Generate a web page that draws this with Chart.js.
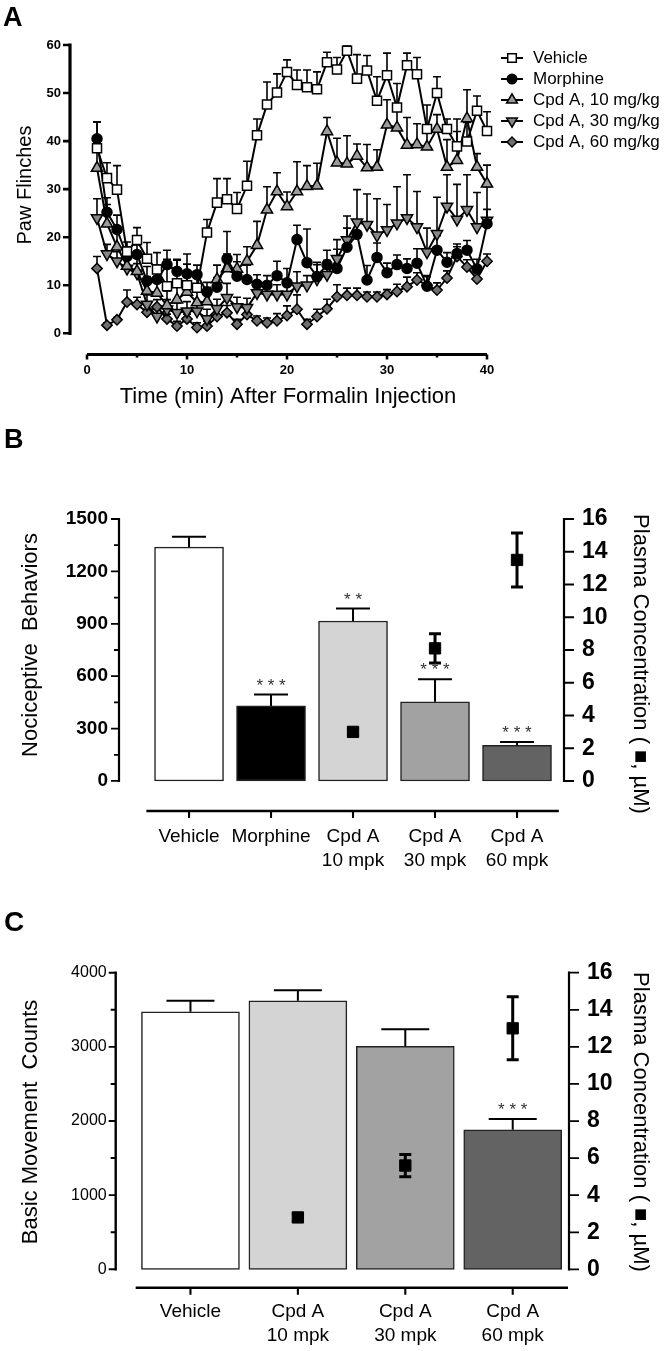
<!DOCTYPE html>
<html>
<head>
<meta charset="utf-8">
<script src="https://cdn.jsdelivr.net/npm/chart.js@4.4.0/dist/chart.umd.min.js"></script>
<style>
  body { margin: 0; background: #fff; width: 666px; height: 1351px; overflow: hidden; position: relative; }
  canvas { position: absolute; left: 0; }
</style>
</head>
<body>
<canvas id="chartA" width="666" height="420" style="top:0"></canvas>
<canvas id="chartB" width="666" height="470" style="top:420px"></canvas>
<canvas id="chartC" width="666" height="461" style="top:890px"></canvas>
<script>
// ---- panel A: paw flinches per minute ----
const minutes = [1, 2, 3, 4, 5, 6, 7, 8, 9, 10, 11, 12, 13, 14, 15, 16, 17, 18, 19, 20,
  21, 22, 23, 24, 25, 26, 27, 28, 29, 30, 31, 32, 33, 34, 35, 36, 37, 38, 39, 40];
const vehicle = [38.5, 32.3, 29.9, 17, 19.4, 15.5, 13.3, 9.8, 10.4, 10, 9.5, 21, 27.2, 27.9, 25.9, 30.7, 41.2, 47.6, 50.1, 54.4,
  51.7, 51.2, 50.8, 56.4, 54.9, 58.8, 53, 54.7, 48.4, 53.7, 47, 55.8, 53.9, 42.5, 50, 42.5, 38.9, 39.9, 46.3, 42.1];
const vehicleErr = [5.5, 3.2, 5, 2, 2.6, 3.4, 3.5, 5.6, 4.8, 6.5, 2.5, 2.7, 5, 4.3, 3.4, 5.1, 3.4, 4.7, 3.9, 2.5,
  3.1, 3.6, 3.6, 2.1, 2.5, 1, 5, 3.1, 5, 4.6, 5, 2.5, 3.5, 5, 3.4, 2.1, 5.7, 4, 3.1, 4];
const morphine = [40.5, 25.2, 21.6, 16, 16.4, 10.9, 11.2, 14.3, 12.9, 12.4, 12.2, 8.6, 9.6, 15.5, 11.9, 11.2, 10.2, 10, 12, 10.5,
  19.5, 14.7, 11.8, 14.3, 13.5, 17.9, 20.6, 11.1, 15.8, 12.6, 14.3, 13.5, 14.6, 9.8, 17.3, 14.8, 16.6, 17.3, 13.4, 22.8];
const morphineErr = [3.5, 3, 3, 2, 2, 3, 3, 3, 2.5, 2, 2, 2, 2, 5.7, 3, 3, 2, 2, 3, 3,
  3, 7, 3, 3, 4, 4, 3, 3, 3, 2, 2, 2, 3, 2, 3, 2, 2, 2, 2, 3];
const cpd10 = [34.4, 22.8, 18, 14, 12.9, 8.8, 8.4, 5.8, 7, 8.6, 6.4, 6.6, 11.2, 13.5, 13.4, 15, 18.3, 25.7, 29.5, 26.4,
  29.5, 30.6, 30.7, 42, 35.5, 35.3, 36.9, 34.5, 34.6, 43.4, 42.8, 39.2, 39.3, 38.8, 42.5, 34.6, 36, 44.7, 34.6, 31.1];
const cpd10Err = [4, 4, 4, 3, 3, 3, 3, 3, 3, 3, 3, 3, 3, 3, 3, 3, 5, 4.8, 3.9, 3,
  6.2, 4.3, 4.7, 2.9, 5.1, 5.8, 2.5, 4.8, 3.6, 5.2, 4.5, 5.7, 4.3, 4.4, 3, 5.7, 6, 6, 2.8, 3.9];
const cpd30 = [24, 16.5, 15, 13.5, 12.5, 6, 3.5, 5, 4.3, 4.6, 4.6, 3, 5.1, 7.4, 5.5, 5.3, 8.4, 8.1, 8.1, 8.1,
  9.8, 10, 11.3, 12.2, 15.5, 19.4, 23.1, 22.6, 20.4, 21.5, 22.9, 24, 22.1, 16.9, 20.7, 26.4, 23.7, 25.7, 22.1, 23.5];
const cpd30Err = [4, 2, 2, 2, 2, 2, 2, 2, 2, 2, 2, 2, 2, 3, 2, 2, 2, 2, 2, 2,
  3, 2, 3, 3, 4, 5, 6.8, 6.4, 7.6, 5.3, 7.6, 9, 7.4, 5, 7.6, 6.6, 7.3, 7.3, 7.2, 7];
const cpd60 = [13.5, 1.7, 2.8, 6.5, 6, 4.4, 5.5, 3, 1.5, 3, 1.2, 1.5, 3.5, 4.3, 1.9, 3.9, 2.6, 2.2, 2.6, 3.7,
  5, 1.9, 3.5, 5.1, 7.6, 7.9, 7.9, 7.6, 7.6, 8.1, 8.7, 9.7, 11.1, 10, 9, 11.5, 16, 13.8, 11.3, 15];
const cpd60Err = [2.5, 0.5, 0.5, 2.5, 1.5, 1.5, 1.5, 1, 1, 1, 1, 1, 1.5, 1.5, 1, 1.5, 1, 1, 1.5, 2,
  3, 1, 1.5, 2, 2.5, 1.5, 1.5, 1, 1, 1, 1.5, 2, 1.5, 2, 1.5, 1.5, 2, 1.5, 1.5, 1.5];
const aYTicks = [0, 10, 20, 30, 40, 50, 60];
const aXTicks = [0, 10, 20, 30, 40];

// ---- panel B: nociceptive behaviours + plasma ----
const bCats = ['Vehicle', 'Morphine', ['Cpd A', '10 mpk'], ['Cpd A', '30 mpk'], ['Cpd A', '60 mpk']];
const bBehav = [1339, 430, 916, 453, 204];
const bBehavErr = [60, 65, 71, 130, 19];
const bStars = ['', '* * *', '* *', '* * *', '* * *'];
const bPlasmaAt = [2, 3, 4];
const bPlasma = [3.0, 8.1, 13.5];
const bPlasmaErr = [0.2, 0.9, 1.65];
const bLeftTicks = [0, 300, 600, 900, 1200, 1500];
const bRightTicks = [0, 2, 4, 6, 8, 10, 12, 14, 16];

// ---- panel C: basic movement + plasma ----
const cCats = ['Vehicle', ['Cpd A', '10 mpk'], ['Cpd A', '30 mpk'], ['Cpd A', '60 mpk']];
const cMove = [3473, 3622, 3008, 1882];
const cMoveErr = [150, 140, 230, 145];
const cStars = ['', '', '', '* * *'];
const cPlasmaAt = [1, 2, 3];
const cPlasma = [2.8, 5.6, 13.0];
const cPlasmaErr = [0.2, 0.6, 1.7];
const cLeftTicks = [0, 1000, 2000, 3000, 4000];
const cRightTicks = [0, 2, 4, 6, 8, 10, 12, 14, 16];

const FONT = '"Liberation Sans", Arial, Helvetica, sans-serif';

function pts(xs, ys) {
  return xs.map((x, i) => ({ x: x, y: ys[i] }));
}

function setTicks(list) {
  return s => { s.ticks = list.map(v => ({ value: v })); };
}

const noGrid = { display: false, drawTicks: false };
const plain = v => String(v);

function errorBars(chart, dsIndex, errs, cap, width, both) {
  const meta = chart.getDatasetMeta(dsIndex);
  const ys = chart.scales[meta.yAxisID];
  const data = chart.data.datasets[dsIndex].data;
  const ctx = chart.ctx;
  ctx.save();
  ctx.strokeStyle = '#000';
  ctx.lineWidth = width;
  meta.data.forEach((el, i) => {
    const v = data[i].y, e = errs[i];
    const x = el.x;
    const y0 = ys.getPixelForValue(v);
    const y1 = ys.getPixelForValue(v + e);
    ctx.beginPath();
    ctx.moveTo(x, y0); ctx.lineTo(x, y1);
    ctx.moveTo(x - cap, y1); ctx.lineTo(x + cap, y1);
    if (both) {
      const y2 = ys.getPixelForValue(v - e);
      ctx.moveTo(x, y0); ctx.lineTo(x, y2);
      ctx.moveTo(x - cap, y2); ctx.lineTo(x + cap, y2);
    }
    ctx.stroke();
  });
  ctx.restore();
}

// vertical axis line plus ticks, side = -1 (left) or 1 (right)
function yAxis(chart, scale, ticks, minorStep, side, len, minorLen, lw) {
  const ctx = chart.ctx;
  const x = side < 0 ? chart.chartArea.left : chart.chartArea.right;
  ctx.save();
  ctx.strokeStyle = '#000';
  ctx.lineWidth = lw;
  ctx.beginPath();
  ctx.moveTo(x, scale.getPixelForValue(ticks[0]) + lw / 2);
  ctx.lineTo(x, scale.getPixelForValue(ticks[ticks.length - 1]) - lw / 2);
  ctx.stroke();
  ctx.lineWidth = lw * 0.8;
  ctx.beginPath();
  ticks.forEach(t => {
    const y = scale.getPixelForValue(t);
    ctx.moveTo(x, y); ctx.lineTo(x + side * len, y);
    if (minorStep && t < ticks[ticks.length - 1]) {
      const ym = scale.getPixelForValue(t + minorStep);
      ctx.moveTo(x, ym); ctx.lineTo(x + side * minorLen, ym);
    }
  });
  ctx.stroke();
  ctx.restore();
}

function xAxis(chart, scale, from, to, ticks, minorStep, len, minorLen, lw) {
  const ctx = chart.ctx;
  const y = chart.chartArea.bottom;
  ctx.save();
  ctx.strokeStyle = '#000';
  ctx.lineWidth = lw;
  ctx.beginPath();
  ctx.moveTo(scale.getPixelForValue(from), y);
  ctx.lineTo(scale.getPixelForValue(to), y);
  ctx.stroke();
  ctx.lineWidth = lw * 0.8;
  ctx.beginPath();
  ticks.forEach(t => {
    const x = scale.getPixelForValue(t);
    ctx.moveTo(x, y); ctx.lineTo(x, y + len);
    if (minorStep && t < ticks[ticks.length - 1]) {
      const xm = scale.getPixelForValue(t + minorStep);
      ctx.moveTo(xm, y); ctx.lineTo(xm, y + minorLen);
    }
  });
  ctx.stroke();
  ctx.restore();
}

function text(ctx, str, x, y, font, rot, align) {
  ctx.save();
  ctx.translate(x, y);
  if (rot) ctx.rotate(rot);
  ctx.font = font;
  ctx.fillStyle = '#000';
  ctx.textAlign = align || 'center';
  ctx.textBaseline = 'middle';
  ctx.fillText(str, 0, 0);
  ctx.restore();
}

function stars(chart, dsIndex, labels, errs) {
  const meta = chart.getDatasetMeta(dsIndex);
  const ys = chart.scales[meta.yAxisID];
  const data = chart.data.datasets[dsIndex].data;
  const ctx = chart.ctx;
  ctx.save();
  ctx.font = '17px ' + FONT;
  ctx.fillStyle = '#333';
  ctx.textAlign = 'center';
  ctx.textBaseline = 'alphabetic';
  meta.data.forEach((el, i) => {
    if (!labels[i]) return;
    const y = ys.getPixelForValue(data[i].y + errs[i]);
    ctx.fillText(labels[i], el.x, y - 4);
  });
  ctx.restore();
}

// ---------------- panel A ----------------
const seriesA = [
  { label: 'Vehicle', data: vehicle, err: vehicleErr, style: 'rect', r: 6.4, fill: '#fff', rot: 0 },
  { label: 'Morphine', data: morphine, err: morphineErr, style: 'circle', r: 5, fill: '#000', rot: 0 },
  { label: 'Cpd A, 10 mg/kg', data: cpd10, err: cpd10Err, style: 'triangle', r: 6.5, fill: '#9c9c9c', rot: 0 },
  { label: 'Cpd A, 30 mg/kg', data: cpd30, err: cpd30Err, style: 'triangle', r: 6.5, fill: '#878787', rot: 180 },
  { label: 'Cpd A, 60 mg/kg', data: cpd60, err: cpd60Err, style: 'rectRot', r: 5.2, fill: '#6f6f6f', rot: 0 }
];

const panelA = {
  id: 'panelA',
  beforeDatasetsDraw(chart) {
    seriesA.forEach((s, i) => errorBars(chart, i, s.err, 4, 1.6, false));
  },
  afterDraw(chart) {
    const ctx = chart.ctx;
    yAxis(chart, chart.scales.y, aYTicks, 0, -1, 7, 0, 3.2);
    xAxis(chart, chart.scales.x, 0, 40, aXTicks, 5, 5, 3, 3.2);
    text(ctx, 'A', 3, 19, 'bold 27px ' + FONT, 0, 'left');
    text(ctx, 'Paw Flinches', 25, 185, '20px ' + FONT, -Math.PI / 2);
    text(ctx, 'Time (min) After Formalin Injection', 288, 397, '22px ' + FONT, 0);
    // legend
    seriesA.forEach((s, i) => {
      const y = 58 + i * 21;
      ctx.save();
      ctx.strokeStyle = '#000';
      ctx.lineWidth = 2;
      ctx.beginPath(); ctx.moveTo(501, y); ctx.lineTo(523, y); ctx.stroke();
      ctx.fillStyle = s.fill;
      ctx.lineWidth = 1.5;
      Chart.helpers.drawPoint(ctx, { pointStyle: s.style, radius: s.r * 0.95, rotation: s.rot, borderWidth: 1.5 }, 512, y);
      ctx.restore();
      text(ctx, s.label, 533, y, '17px ' + FONT, 0, 'left');
    });
  }
};

new Chart(document.getElementById('chartA'), {
  type: 'line',
  data: {
    datasets: seriesA.map(s => ({
      label: s.label,
      data: pts(minutes, s.data),
      borderColor: '#000',
      borderWidth: 2,
      pointStyle: s.style,
      pointRotation: s.rot,
      pointRadius: s.r,
      pointBackgroundColor: s.fill,
      pointBorderColor: '#000',
      pointBorderWidth: 1.5,
      tension: 0
    }))
  },
  options: {
    responsive: false,
    animation: false,
    layout: { padding: { left: 0, top: 45, right: 171, bottom: 0 } },
    plugins: { legend: { display: false }, tooltip: { enabled: false } },
    scales: {
      x: {
        type: 'linear', min: -1.7, max: 40.8, offset: false,
        afterBuildTicks: setTicks(aXTicks),
        afterFit: s => { s.height = 65.5; },
        grid: noGrid, border: { display: false },
        ticks: { padding: 8, color: '#000', maxRotation: 0, autoSkip: false, callback: plain, font: { family: FONT, size: 13, weight: 'bold' } }
      },
      y: {
        min: -4.41, max: 60,
        afterBuildTicks: setTicks(aYTicks),
        afterFit: s => { s.width = 70; },
        grid: noGrid, border: { display: false },
        ticks: { padding: 9, color: '#000', callback: plain, font: { family: FONT, size: 13, weight: 'bold' } }
      }
    }
  },
  plugins: [panelA]
});

// ---------------- panel B ----------------
const panelB = {
  id: 'panelB',
  afterDatasetsDraw(chart) {
    errorBars(chart, 1, bBehavErr, 17, 2, false);
    errorBars(chart, 0, bPlasmaErr, 6, 3, true);
    stars(chart, 1, bStars, bBehavErr);
  },
  afterDraw(chart) {
    const ctx = chart.ctx;
    yAxis(chart, chart.scales.y, bLeftTicks, 150, -1, 8, 5, 2.2);
    yAxis(chart, chart.scales.y2, bRightTicks, 0, 1, 10, 0, 2.2);
    xAxis(chart, chart.scales.x, -0.52, 4.51, [0, 1, 2, 3, 4], 0, 7, 0, 2.6);
    text(ctx, 'B', 4, 21, 'bold 27px ' + FONT, 0, 'left');
    text(ctx, 'Nociceptive  Behaviors', 31, 225, '22px ' + FONT, -Math.PI / 2);
    text(ctx, 'Plasma Concentration ( \u25A0, \u00B5M)', 640, 244, '22px ' + FONT, Math.PI / 2);
  }
};

new Chart(document.getElementById('chartB'), {
  type: 'bar',
  data: {
    datasets: [
      {
        type: 'line', label: 'Plasma', data: pts(bPlasmaAt, bPlasma), yAxisID: 'y2',
        showLine: false, pointStyle: 'rect', pointRadius: 8, pointBackgroundColor: '#000',
        pointBorderColor: '#000', order: 0
      },
      {
        label: 'Nociceptive Behaviors', data: pts([0, 1, 2, 3, 4], bBehav), yAxisID: 'y',
        backgroundColor: ['#ffffff', '#000000', '#d4d4d4', '#a2a2a2', '#636363'],
        borderColor: '#222', borderWidth: 1.5, borderSkipped: false, barThickness: 69, order: 1
      }
    ]
  },
  options: {
    responsive: false,
    animation: false,
    layout: { padding: { left: 0, top: 99, right: 0, bottom: 0 } },
    plugins: { legend: { display: false }, tooltip: { enabled: false } },
    scales: {
      x: {
        type: 'linear', min: -0.854, max: 4.573, offset: false,
        afterBuildTicks: setTicks([0, 1, 2, 3, 4]),
        afterFit: s => { s.height = 79; },
        grid: noGrid, border: { display: false },
        ticks: {
          padding: 13.5, color: '#000', maxRotation: 0, autoSkip: false,
          font: { family: FONT, size: 19, lineHeight: 1.28 },
          callback: v => bCats[v]
        }
      },
      y: {
        position: 'left', min: -171.8, max: 1500,
        afterBuildTicks: setTicks(bLeftTicks),
        afterFit: s => { s.width = 119; },
        grid: noGrid, border: { display: false },
        ticks: { padding: 11, color: '#000', callback: plain, font: { family: FONT, size: 19, weight: 'bold' } }
      },
      y2: {
        position: 'right', min: -1.832, max: 16,
        afterBuildTicks: setTicks(bRightTicks),
        afterFit: s => { s.width = 102; },
        grid: noGrid, border: { display: false },
        ticks: { padding: 18, color: '#000', callback: plain, font: { family: FONT, size: 23, weight: 'bold' } }
      }
    }
  },
  plugins: [panelB]
});

// ---------------- panel C ----------------
const panelC = {
  id: 'panelC',
  afterDatasetsDraw(chart) {
    errorBars(chart, 1, cMoveErr, 24, 2, false);
    errorBars(chart, 0, cPlasmaErr, 6, 3, true);
    stars(chart, 1, cStars, cMoveErr);
  },
  afterDraw(chart) {
    const ctx = chart.ctx;
    yAxis(chart, chart.scales.y, cLeftTicks, 500, -1, 7, 5, 2.4);
    yAxis(chart, chart.scales.y2, cRightTicks, 0, 1, 10, 0, 2.2);
    xAxis(chart, chart.scales.x, -0.51, 3.515, [0, 1, 2, 3], 0, 7, 0, 2.6);
    text(ctx, 'C', 4, 33, 'bold 28px ' + FONT, 0, 'left');
    text(ctx, 'Basic Movement  Counts', 31, 232, '22px ' + FONT, -Math.PI / 2);
    text(ctx, 'Plasma Concentration ( \u25A0, \u00B5M)', 640, 232, '22px ' + FONT, Math.PI / 2);
  }
};

new Chart(document.getElementById('chartC'), {
  type: 'bar',
  data: {
    datasets: [
      {
        type: 'line', label: 'Plasma', data: pts(cPlasmaAt, cPlasma), yAxisID: 'y2',
        showLine: false, pointStyle: 'rect', pointRadius: 8, pointBackgroundColor: '#000',
        pointBorderColor: '#000', order: 0
      },
      {
        label: 'Basic Movement Counts', data: pts([0, 1, 2, 3], cMove), yAxisID: 'y',
        backgroundColor: ['#ffffff', '#d4d4d4', '#a2a2a2', '#636363'],
        borderColor: '#222', borderWidth: 1.5, borderSkipped: false, barThickness: 98, order: 1
      }
    ]
  },
  options: {
    responsive: false,
    animation: false,
    layout: { padding: { left: 0, top: 82.7, right: 0, bottom: 0 } },
    plugins: { legend: { display: false }, tooltip: { enabled: false } },
    scales: {
      x: {
        type: 'linear', min: -0.696, max: 3.524, offset: false,
        afterBuildTicks: setTicks([0, 1, 2, 3]),
        afterFit: s => { s.height = 63.3; },
        grid: noGrid, border: { display: false },
        ticks: {
          padding: 11.8, color: '#000', maxRotation: 0, autoSkip: false,
          font: { family: FONT, size: 19, lineHeight: 1.28 },
          callback: v => cCats[v]
        }
      },
      y: {
        position: 'left', min: -248, max: 4000,
        afterBuildTicks: setTicks(cLeftTicks),
        afterFit: s => { s.width = 115.7; },
        grid: noGrid, border: { display: false },
        ticks: { padding: 9, color: '#000', callback: plain, font: { family: FONT, size: 16 } }
      },
      y2: {
        position: 'right', min: -0.99, max: 16,
        afterBuildTicks: setTicks(cRightTicks),
        afterFit: s => { s.width = 97; },
        grid: noGrid, border: { display: false },
        ticks: { padding: 18, color: '#000', callback: plain, font: { family: FONT, size: 23, weight: 'bold' } }
      }
    }
  },
  plugins: [panelC]
});
</script>
</body>
</html>
